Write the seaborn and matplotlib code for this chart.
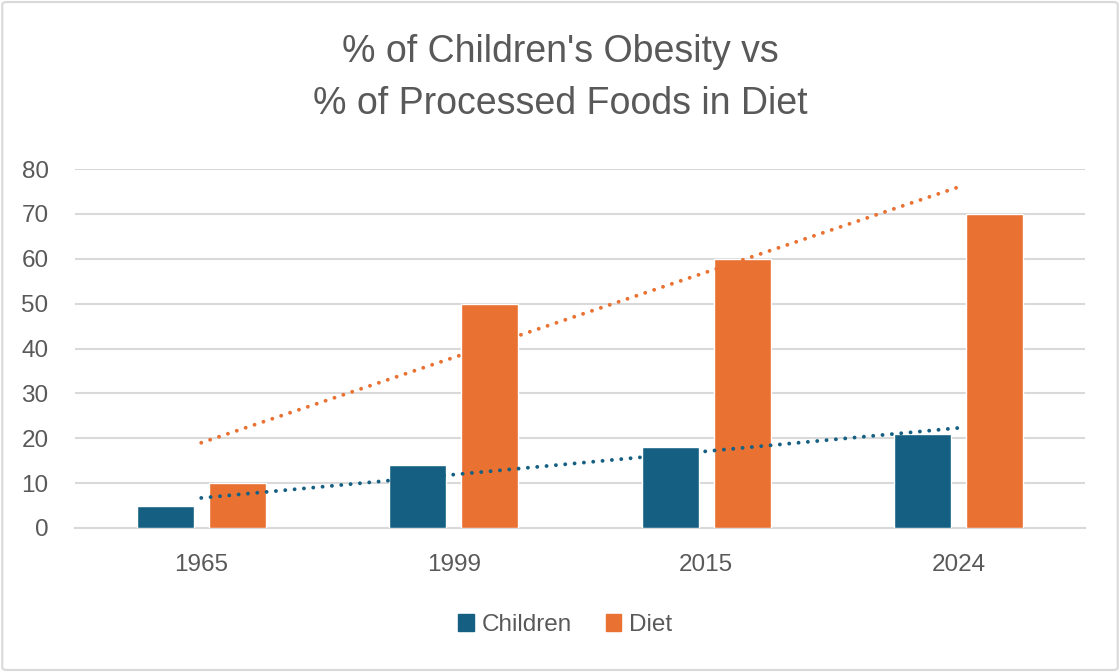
import numpy as np
import pandas as pd
import matplotlib
matplotlib.use("Agg")
import matplotlib.pyplot as plt
import seaborn as sns
from matplotlib.patches import FancyBboxPatch

years = ["1965", "1999", "2015", "2024"]
children = [5, 14, 18, 21]
diet = [10, 50, 60, 70]
series_names = ["Children", "Diet"]
colors = {"Children": "#156082", "Diet": "#E97132"}

df = pd.DataFrame({
    "Year": years * 2,
    "Value": children + diet,
    "Series": ["Children"] * len(years) + ["Diet"] * len(years),
})

sns.set_theme(style="white")
plt.rcParams["font.family"] = ["Liberation Sans", "DejaVu Sans"]
txt = "#595959"

fig = plt.figure(figsize=(11.2, 6.72), dpi=100)
ax = fig.add_axes([75 / 1120, (672 - 528) / 672, (1085 - 75) / 1120, (528 - 169) / 672])

sns.barplot(data=df, x="Year", y="Value", hue="Series", order=years,
            hue_order=series_names, palette=colors, width=0.572, gap=0.21,
            saturation=1, ax=ax, legend=False, zorder=3)

# linear trendlines
xs = np.arange(len(years))
for name, vals in (("Diet", diet), ("Children", children)):
    m, b = np.polyfit(xs, vals, 1)
    ax.plot(xs, m * xs + b, color=colors[name], lw=2.8,
            linestyle=(0, (0.01, 2.4)), dash_capstyle="round", zorder=4)

ax.set_xlim(-0.5, len(years) - 0.5)
ax.set_ylim(0, 80)
ax.set_yticks(range(0, 81, 10))
ax.yaxis.grid(True, color="#D9D9D9", lw=1.5, zorder=0)
ax.set_axisbelow(True)
for s in ["top", "right", "left"]:
    ax.spines[s].set_visible(False)
ax.spines["bottom"].set_color("#D9D9D9")
ax.spines["bottom"].set_linewidth(1.5)
ax.set_xlabel("")
ax.set_ylabel("")
ax.tick_params(axis="both", length=0, labelsize=17.5, labelcolor=txt)
ax.tick_params(axis="x", pad=19)
ax.tick_params(axis="y", pad=19)

fig.text(560 / 1120, 1 - 52 / 672, "% of Children's Obesity vs",
         ha="center", va="center", fontsize=27, color=txt)
fig.text(560 / 1120, 1 - 104 / 672, "% of Processed Foods in Diet",
         ha="center", va="center", fontsize=27, color=txt)

handles = [plt.Rectangle((0, 0), 1, 1, color=colors[n]) for n in series_names]
fig.legend(handles, series_names, loc="center", bbox_to_anchor=(565 / 1120, 1 - 625 / 672),
           ncol=2, frameon=False, fontsize=17.5, labelcolor=txt,
           handlelength=0.65, handleheight=0.65, handletextpad=0.3, columnspacing=1.4)

border = FancyBboxPatch((0.002, 0.003), 0.996, 0.994, boxstyle="round,pad=0,rounding_size=0.004",
                        transform=fig.transFigure, fill=False, ec="#D9D9D9", lw=1.5)
fig.patches.append(border)

fig.savefig("out.png", dpi=100)
